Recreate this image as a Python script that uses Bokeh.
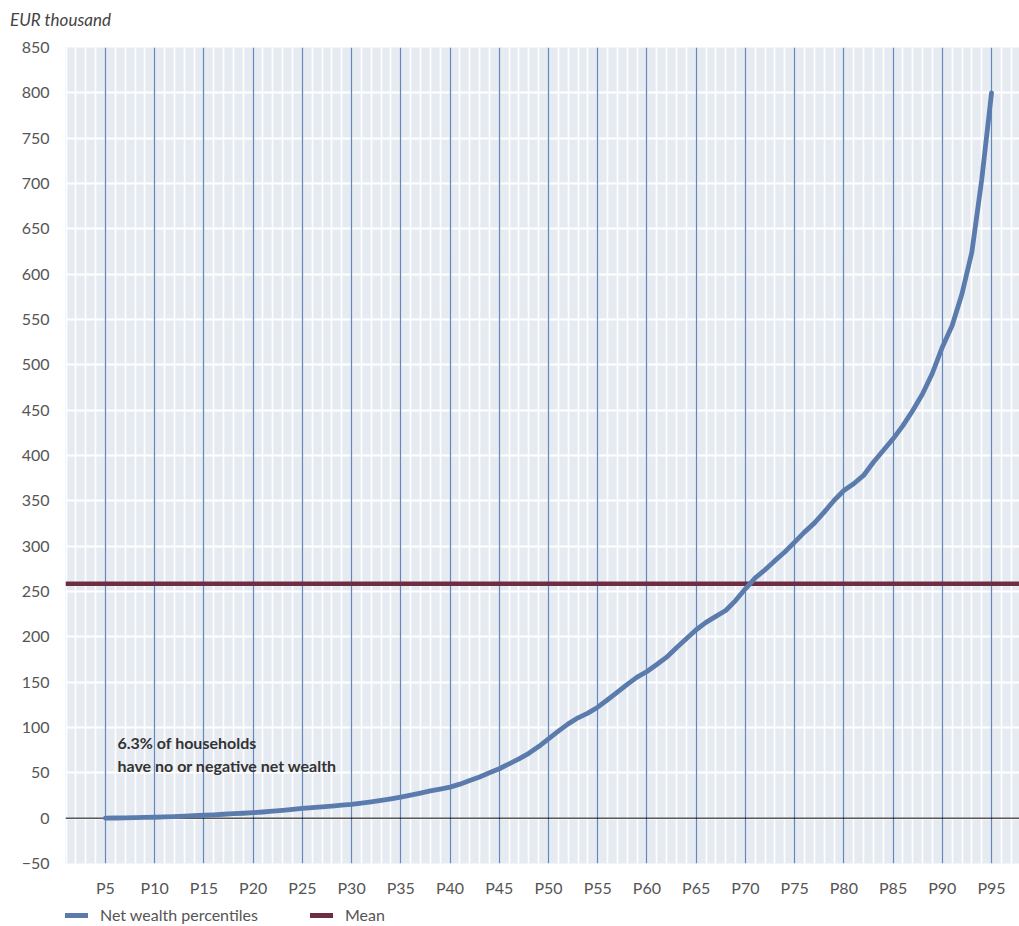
from bokeh.plotting import figure
from bokeh.layouts import column
from bokeh.models import Range1d, FixedTicker, Grid, Span, Label, Div
from bokeh.embed import file_html
from bokeh.resources import INLINE

# ---------------- data ----------------
percentiles = list(range(5, 96))
net_wealth = [
    0.0, 0.2, 0.4, 0.6, 0.8, 1.0, 1.4, 1.8, 2.3, 2.7,          # P5-P14
    3.2, 3.7, 4.3, 4.9, 5.4, 6.0, 6.8, 7.7, 8.6, 9.6,          # P15-P24
    10.7, 11.6, 12.5, 13.4, 14.3, 15.3, 16.6, 18.0, 19.6, 21.3,  # P25-P34
    23.2, 25.3, 27.6, 30.0, 32.0, 34.2, 37.5, 41.6, 45.5, 50.0,  # P35-P44
    54.5, 60.0, 65.5, 71.5, 79.0, 87.5, 96.0, 104.0, 110.7, 115.8,  # P45-P54
    122.4, 130.6, 139.0, 147.5, 155.5, 161.8, 169.5, 177.6, 188.0, 197.8,  # P55-P64
    207.8, 216.0, 222.5, 229.0, 240.0, 253.0, 265.0, 274.0, 284.0, 293.5,  # P65-P74
    304.5, 315.5, 325.4, 337.5, 350.4, 361.4, 368.8, 378.0, 392.6, 405.5,  # P75-P84
    418.4, 433.0, 449.7, 468.0, 491.0, 519.5, 543.4, 578.4, 624.3, 704.0,  # P85-P94
    800.0,                                                      # P95
]
mean_value = 258.5

x_tick_values = list(range(5, 96, 5))
x_tick_labels = [f"P{v}" for v in x_tick_values]
x_minor_grid = list(range(1, 98))
y_tick_values = list(range(-50, 851, 50))
y_tick_labels = [("\u2212" + str(-v)) if v < 0 else str(v) for v in y_tick_values]

title_text = "EUR thousand"
note_text = "6.3% of households\nhave no or negative net wealth"
series_label = "Net wealth percentiles"
mean_label = "Mean"

# ---------------- layout / style ----------------
W = 1019
TOP_H = 30          # strip holding the unit label
LEG_H = 22          # strip holding the legend
BORDER_L, BORDER_T, BORDER_B = 65, 17, 41
FRAME_W, FRAME_H = W - BORDER_L, 816
MAIN_H = BORDER_T + FRAME_H + BORDER_B
X_LO, X_HI = 0.94, 97.84
Y_LO, Y_HI = -50, 850
ppu_x = FRAME_W / (X_HI - X_LO)

FONT = "Lato"
BLUE = "#5b7bad"
MAROON = "#6e2d41"
BG = "#e6ebf2"
TXT = "#555555"

# ---- top strip: unit label ----
top = Div(text=(f'<div style="padding:10px 0 0 10px;font-family:{FONT};'
                f'font-style:italic;font-size:17px;line-height:20px;'
                f'color:#444444;white-space:nowrap">{title_text}</div>'),
          width=W, height=TOP_H, margin=(0, 0, 0, 0))

# ---- main chart ----
p = figure(width=W, height=MAIN_H,
           x_range=Range1d(X_LO, X_HI), y_range=Range1d(Y_LO, Y_HI),
           output_backend="svg", toolbar_location=None,
           min_border_left=BORDER_L, min_border_right=0,
           min_border_top=BORDER_T, min_border_bottom=BORDER_B)

p.background_fill_color = BG
p.border_fill_color = "white"
p.outline_line_color = None

p.xgrid.ticker = FixedTicker(ticks=x_minor_grid)
p.xgrid.grid_line_color = "white"
p.xgrid.grid_line_width = 1.6
p.ygrid.ticker = FixedTicker(ticks=y_tick_values)
p.ygrid.grid_line_color = "white"
p.ygrid.grid_line_width = 2

blue_grid = Grid(dimension=0, ticker=FixedTicker(ticks=x_tick_values),
                 grid_line_color="#6587bc", grid_line_width=1.3)
p.add_layout(blue_grid)

zero_line = Span(location=0, dimension="width", line_color="black",
                 line_width=1, level="underlay")
p.add_layout(zero_line)

for ax in (p.xaxis[0], p.yaxis[0]):
    ax.axis_line_color = None
    ax.major_tick_line_color = None
    ax.minor_tick_line_color = None
    ax.major_tick_out = 0
    ax.major_tick_in = 0
    ax.major_label_text_font = FONT
    ax.major_label_text_font_size = "16px"
    ax.major_label_text_color = TXT
p.xaxis.major_label_standoff = 14
p.yaxis.major_label_standoff = 16

p.xaxis.ticker = FixedTicker(ticks=x_tick_values)
p.xaxis.major_label_overrides = dict(zip(x_tick_values, x_tick_labels))
p.yaxis.ticker = FixedTicker(ticks=y_tick_values)
p.yaxis.major_label_overrides = dict(zip(y_tick_values, y_tick_labels))

p.line(x=[X_LO, X_HI], y=[mean_value, mean_value],
       line_color=MAROON, line_width=4.5)
p.line(x=percentiles, y=net_wealth, line_color=BLUE,
       line_width=4.8, line_join="round", line_cap="round")

p.add_layout(Label(x=5 + 12 / ppu_x, y=94.0, text=note_text,
                   text_font=FONT, text_font_style="bold",
                   text_font_size="16px", text_color="#333333",
                   text_baseline="top", text_align="left",
                   text_line_height=1.2))

# ---- bottom strip: legend ----
def swatch(color, left):
    return (f'<span style="position:absolute;left:{left}px;top:9px;width:23px;'
            f'height:5px;background:{color}"></span>')

def tag(label, left):
    return (f'<span style="position:absolute;left:{left}px;top:1px;'
            f'line-height:20px;white-space:nowrap">{label}</span>')

legend_html = (f'<div style="position:relative;width:{W}px;height:{LEG_H}px;'
               f'font-family:{FONT};font-size:16px;color:{TXT}">'
               + swatch(BLUE, 65) + tag(series_label, 100)
               + swatch(MAROON, 310) + tag(mean_label, 345)
               + '</div>')
leg = Div(text=legend_html, width=W, height=LEG_H, margin=(0, 0, 0, 0))

layout = column(top, p, leg, spacing=0)
open("out.html", "w").write(file_html(layout, INLINE))
